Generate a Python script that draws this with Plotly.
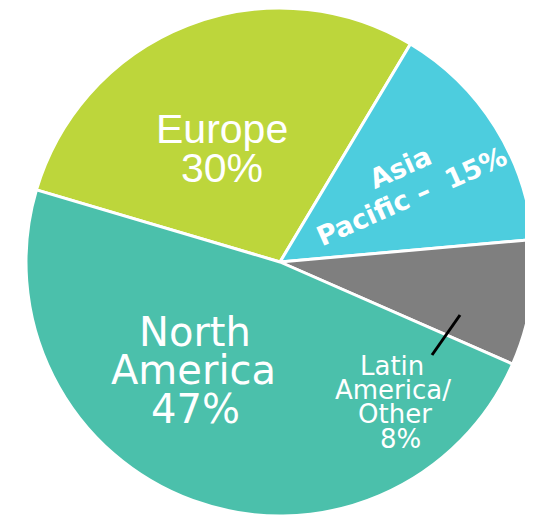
import plotly.graph_objects as go

# slice data, clockwise from the Europe / North America boundary
labels = ["Europe", "Asia Pacific", "Latin America/Other", "North America"]
values = [29, 15, 8, 48]            # slice sizes as drawn
pct_text = ["30%", "15%", "8%", "47%"]  # percentages as printed on the chart
colors = ["#BDD63B", "#4DCDDE", "#7F7F7F", "#4BC0AB"]

# how each label is broken into lines on the chart
label_lines = [["Europe"], ["Asia", "Pacific –  "], ["Latin", "America/", "Other"], ["North", "America"]]

W, H = 533, 516
OFF = 8  # page body margin


def px(x, y):
    return (x - OFF) / W, 1 - (y - OFF) / H


fig = go.Figure(go.Pie(
    labels=labels,
    values=values,
    sort=False,
    direction="clockwise",
    rotation=-73.5,
    marker=dict(colors=colors, line=dict(color="white", width=3)),
    textinfo="none",
    hoverinfo="label",
    domain=dict(x=[18 / W, 526 / W], y=[1 - 508 / H, 1]),
    showlegend=False,
))


def add_lines(lines, centers, font, angle=0):
    for text, (cx, cy) in zip(lines, centers):
        x, y = px(cx, cy)
        fig.add_annotation(x=x, y=y, xref="paper", yref="paper", text=text,
                           showarrow=False, xanchor="center", yanchor="middle",
                           textangle=angle, font=font)


# Europe
add_lines(label_lines[0] + [pct_text[0]], [(222, 129), (222, 168)],
          dict(family="Liberation Sans", size=41, color="white"))

# Asia Pacific (rotated, bold)
asia = label_lines[1][:-1] + [label_lines[1][-1] + pct_text[1]]
add_lines(asia, [(400, 167), (411, 196)],
          dict(family="DejaVu Sans", size=27, color="white", weight="bold"), angle=-24)

# Latin America / Other, outside its slice with a leader line
add_lines(label_lines[2] + [pct_text[2]], [(392, 366), (393, 390), (395, 414), (400, 439)],
          dict(family="DejaVu Sans", size=26, color="white"))

# North America
add_lines(label_lines[3] + [pct_text[3]], [(195, 332), (193, 370), (195, 409)],
          dict(family="DejaVu Sans", size=40, color="white"))

x0, y0 = px(460, 315)
x1, y1 = px(432, 355)
fig.add_shape(type="line", xref="paper", yref="paper", x0=x0, y0=y0, x1=x1, y1=y1,
              line=dict(color="black", width=3))

fig.update_layout(
    width=W, height=H,
    margin=dict(l=0, r=0, t=0, b=0),
    paper_bgcolor="white",
    plot_bgcolor="white",
)

fig.write_html("out.html")
